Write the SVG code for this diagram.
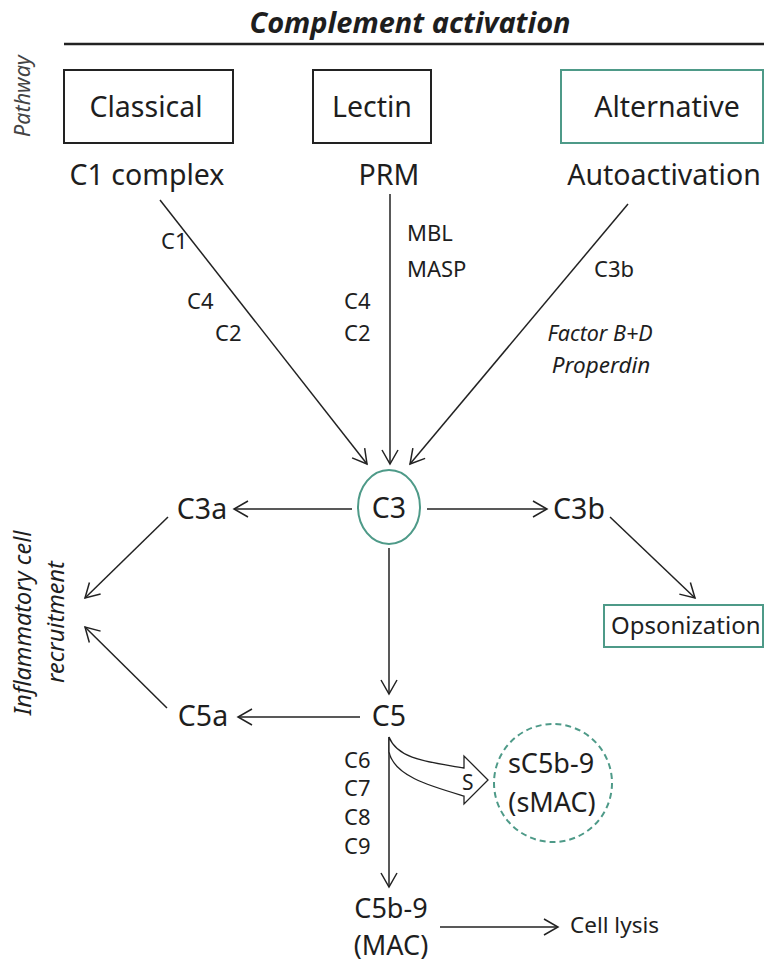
<svg xmlns="http://www.w3.org/2000/svg" width="764" height="964" viewBox="0 0 764 964">
<style>
text{font-family:"Noto Sans","Open Sans",sans-serif;fill:#1e1e1e}
.t26{font-size:28.5px}
.t24{font-size:27px}
.t20{font-size:22.5px}
.t18{font-size:22px}
.it{font-style:italic}
.ln{stroke:#222;stroke-width:1.5;fill:none}
.box{fill:#fff;stroke:#222;stroke-width:2}
.tbox{fill:#fff;stroke:#4e9a88;stroke-width:2}
</style>
<defs>
<marker id="ah" markerUnits="userSpaceOnUse" markerWidth="20" markerHeight="20" viewBox="0 0 20 20" refX="16" refY="10" orient="auto">
<path d="M2,2 L16,10 L2,18" fill="none" stroke="#222" stroke-width="1.5"/>
</marker>
</defs>
<g id="title">
<text x="410" y="33" text-anchor="middle" style="font-size:29px;font-weight:bold;font-style:italic">Complement activation</text>
<line x1="64" y1="44" x2="764" y2="44" stroke="#222" stroke-width="2.5"/>
</g>
<text id="pathway" class="it" transform="translate(30,96) rotate(-90)" text-anchor="middle" style="font-size:21.5px;fill:#444">Pathway</text>
<g id="classical"><rect class="box" x="64" y="70" width="169" height="73"/><text class="t26" x="146" y="117" text-anchor="middle">Classical</text></g>
<g id="lectin"><rect class="box" x="313" y="70" width="118" height="73"/><text class="t26" x="372" y="117" text-anchor="middle">Lectin</text></g>
<g id="alternative"><rect class="tbox" x="561" y="70" width="202" height="73"/><text class="t26" x="667" y="117" text-anchor="middle">Alternative</text></g>
<g id="c1complex"><text class="t26" x="147" y="185" text-anchor="middle">C1 complex</text></g>
<g id="prm"><text class="t26" x="389" y="185" text-anchor="middle">PRM</text></g>
<g id="autoactivation"><text class="t26" x="664" y="185" text-anchor="middle">Autoactivation</text></g>
<g id="c3"><ellipse cx="389" cy="507" rx="31" ry="37" fill="#fff" stroke="#4e9a88" stroke-width="2"/><text class="t26" x="389" y="518" text-anchor="middle">C3</text></g>
<g id="c3a"><text class="t26" x="202" y="519" text-anchor="middle">C3a</text></g>
<g id="c3b"><text class="t26" x="579" y="519" text-anchor="middle">C3b</text></g>
<g id="opsonization"><rect class="tbox" x="604" y="605" width="159" height="42"/><text style="font-size:24px" x="611" y="634">Opsonization</text></g>
<g id="c5"><text class="t26" x="389" y="726" text-anchor="middle">C5</text></g>
<g id="c5a"><text class="t26" x="203" y="726" text-anchor="middle">C5a</text></g>
<g id="inflammatory">
<text class="it" transform="translate(31,623) rotate(-90)" text-anchor="middle" style="font-size:23.5px">Inflammatory cell</text>
<text class="it" transform="translate(64,622) rotate(-90)" text-anchor="middle" style="font-size:23.5px">recruitment</text>
</g>
<g id="smac"><circle cx="553" cy="783" r="59" fill="#fff" stroke="#4e9a88" stroke-width="2" stroke-dasharray="6,4"/><text class="t24" x="551" y="773" text-anchor="middle">sC5b-9</text><text class="t24" x="552" y="812" text-anchor="middle">(sMAC)</text></g>
<g id="mac"><text class="t24" x="391" y="918" text-anchor="middle">C5b-9</text><text class="t24" x="391" y="955" text-anchor="middle">(MAC)</text></g>
<g id="celllysis"><text class="t20" x="570" y="933">Cell lysis</text></g>
<g id="connectors">
<line class="ln" x1="160" y1="200" x2="367" y2="464" marker-end="url(#ah)"/>
<line class="ln" x1="390" y1="194" x2="390" y2="464" marker-end="url(#ah)"/>
<line class="ln" x1="628" y1="204" x2="410" y2="464" marker-end="url(#ah)"/>
<line class="ln" x1="352" y1="509" x2="234" y2="509" marker-end="url(#ah)"/>
<line class="ln" x1="427" y1="509" x2="547" y2="509" marker-end="url(#ah)"/>
<line class="ln" x1="610" y1="517" x2="695" y2="598" marker-end="url(#ah)"/>
<line class="ln" x1="389" y1="548" x2="389" y2="694" marker-end="url(#ah)"/>
<line class="ln" x1="168" y1="517" x2="85" y2="598" marker-end="url(#ah)"/>
<line class="ln" x1="167" y1="708" x2="85" y2="627" marker-end="url(#ah)"/>
<line class="ln" x1="360" y1="717" x2="238" y2="717" marker-end="url(#ah)"/>
<line class="ln" x1="389" y1="737" x2="389" y2="887" marker-end="url(#ah)"/>
<line class="ln" x1="440" y1="927" x2="558" y2="927" marker-end="url(#ah)"/>
<path d="M389,737 C398,760 430,762 464,768 L464,756 L488,780 L464,804 L464,796 C430,786 394,776 389,752 Z" fill="#fff" stroke="#222" stroke-width="1.3"/>
<text style="font-size:21px" x="462" y="790">S</text>
</g>
<g id="labels">
<text class="t18" x="161" y="249">C1</text>
<text class="t18" x="187" y="309">C4</text>
<text class="t18" x="215" y="341">C2</text>
<text class="t18" x="407" y="241">MBL</text>
<text class="t18" x="407" y="277">MASP</text>
<text class="t18" x="344" y="309">C4</text>
<text class="t18" x="344" y="341">C2</text>
<text class="t18" x="594" y="277">C3b</text>
<text class="it" style="font-size:21.5px" x="600" y="341" text-anchor="middle">Factor B+D</text>
<text class="it" style="font-size:22.5px" x="601" y="373" text-anchor="middle">Properdin</text>
<text class="t18" x="344" y="768">C6</text>
<text class="t18" x="344" y="796">C7</text>
<text class="t18" x="344" y="825">C8</text>
<text class="t18" x="344" y="854">C9</text>
</g>
</svg>
